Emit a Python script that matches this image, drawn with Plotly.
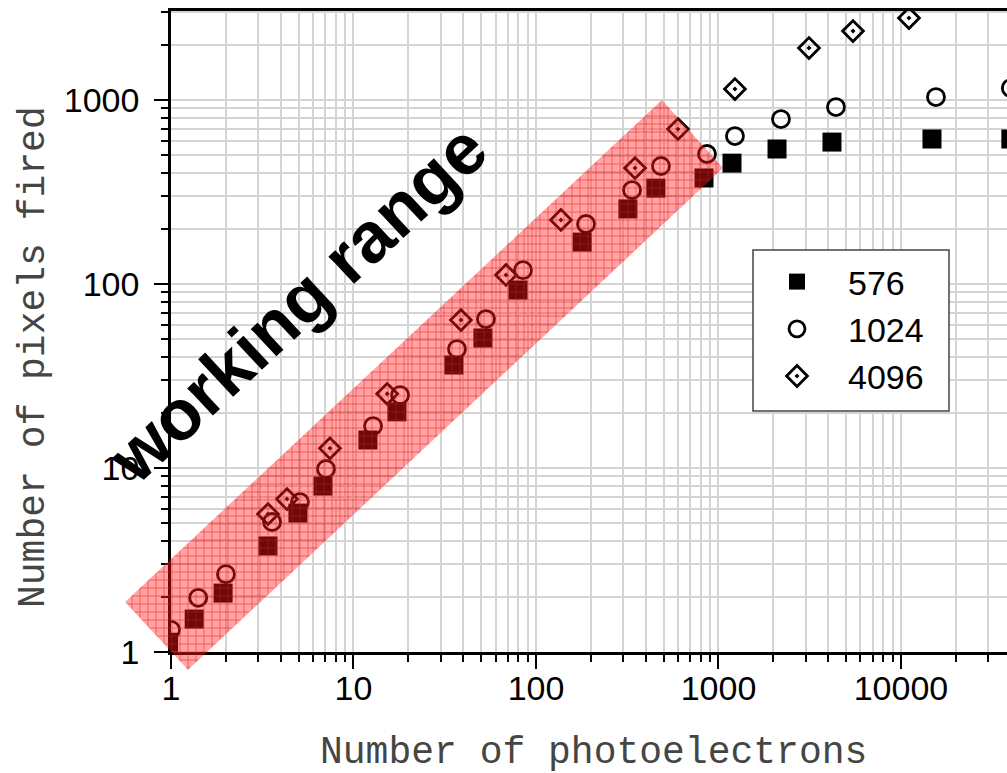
import plotly.graph_objects as go

# ---------------- data ----------------
x_576 = [0.97, 1.34, 1.93, 3.40, 4.96, 6.81, 12.0, 17.3, 35.5, 51.2, 79.7, 179, 319, 454, 833, 1186, 2093, 4188, 14790, 40000]
y_576 = [1.13, 1.51, 2.09, 3.77, 5.69, 7.98, 14.2, 20.2, 36.3, 50.9, 92.8, 169, 256, 332, 377, 454, 542, 591, 614, 614]

x_1024 = [1.0, 1.41, 2.0, 3.58, 5.09, 7.07, 12.8, 18.0, 36.9, 53.2, 84.9, 188, 336, 484, 865, 1231, 2200, 4403, 15550, 40000]
y_1024 = [1.32, 1.97, 2.65, 5.09, 6.53, 9.88, 16.9, 24.9, 44.3, 64.5, 119, 212, 324, 438, 509, 637, 788, 916, 1038, 1162]

x_4096 = [3.40, 4.32, 7.43, 15.3, 38.8, 68.5, 137, 349, 600, 1231, 3133, 5458, 11060]
y_4096 = [5.62, 6.78, 12.8, 25.3, 63.7, 112, 223, 427, 695, 1148, 1918, 2371, 2790]

series_names = ["576", "1024", "4096"]

# "working range" band corners (data units)
band_x = [0.56, 1.24, 1059, 490]
band_y = [1.87, 0.80, 427, 1000]

x_tick_vals = [1, 10, 100, 1000, 10000]
x_tick_text = ["1", "10", "100", "1000", "10000"]
y_tick_vals = [1, 10, 100, 1000]
y_tick_text = ["1", "10", "100", "1000"]

x_title = "Number of photoelectrons"
y_title = "Number of pixels fired"
band_label = "working\u00a0range"

# ---------------- layout geometry ----------------
W, H = 1007, 773
PL, PR, PT, PB = 171, 1007, 11, 652          # plot-area pixel bounds
XR = [0.0, 4.581]                            # log10 range of x axis
YR = [0.0, 3.484]                            # log10 range of y axis
sx = (PR - PL) / (XR[1] - XR[0])
sy = (PB - PT) / (YR[1] - YR[0])
XR2 = [XR[0] - PL / sx, XR[1] + (W - PR) / sx]
YR2 = [YR[0] - (H - PB) / sy, YR[1] + PT / sy]

def px(xp):
    return xp / W

def py(yp):
    return 1 - yp / H

minor_x = [m * 10 ** e for e in range(0, 5) for m in range(2, 10)]
minor_y = [m * 10 ** e for e in range(0, 4) for m in range(2, 10)]

TICKFONT = dict(family="Liberation Sans, Arial", size=34, color="black")
TITLEFONT = dict(family="Liberation Mono, Courier New, monospace", size=38, color="#454545")
GRID = "#d4d4d4"

fig = go.Figure()

fig.add_trace(go.Scatter(
    x=x_576, y=y_576, mode="markers", name=series_names[0],
    marker=dict(symbol="square", size=19, color="black", line=dict(width=0)),
))
fig.add_trace(go.Scatter(
    x=x_1024, y=y_1024, mode="markers", name=series_names[1],
    marker=dict(symbol="circle-open", size=17, color="black", line=dict(width=2.8)),
))
fig.add_trace(go.Scatter(
    x=x_4096, y=y_4096, mode="markers", name=series_names[2],
    marker=dict(symbol="diamond-open-dot", size=16, color="black", line=dict(width=2.8)),
))

# translucent hatched band on an invisible full-figure overlay axis pair
fig.add_trace(go.Scatter(
    x=band_x + band_x[:1], y=band_y + band_y[:1], xaxis="x2", yaxis="y2",
    mode="lines", fill="toself", line=dict(width=0, color="rgba(0,0,0,0)"),
    fillcolor="rgba(255,0,0,0.42)",
    fillpattern=dict(shape="+", size=8, solidity=0.16, fillmode="replace",
                     fgcolor="rgba(255,0,0,0.7)", bgcolor="rgba(255,30,30,0.40)"),
    showlegend=False, hoverinfo="skip",
))

fig.update_layout(
    template=go.layout.Template(),
    width=W, height=H, autosize=False,
    margin=dict(l=0, r=0, t=0, b=0, pad=0, autoexpand=False),
    paper_bgcolor="white", plot_bgcolor="rgba(0,0,0,0)",
    xaxis=dict(
        type="log", range=XR, domain=[px(PL), px(PR)], anchor="y", automargin=False,
        tickmode="array", tickvals=x_tick_vals, ticktext=x_tick_text,
        ticks="outside", ticklen=14, tickwidth=2, tickcolor="black",
        ticklabelstandoff=-10,
        showline=True, linecolor="black", linewidth=2.5, mirror=True,
        showgrid=True, gridcolor=GRID, gridwidth=1.5, zeroline=False,
        tickfont=TICKFONT,
        minor=dict(tickmode="array", tickvals=minor_x, ticks="outside", ticklen=7,
                   tickwidth=2, tickcolor="black", showgrid=True, gridcolor=GRID, gridwidth=1.5),
    ),
    yaxis=dict(
        type="log", range=YR, domain=[py(PB), py(PT)], anchor="x", automargin=False,
        tickmode="array", tickvals=y_tick_vals, ticktext=y_tick_text,
        ticks="outside", ticklen=14, tickwidth=2, tickcolor="black",
        ticklabelstandoff=8,
        showline=True, linecolor="black", linewidth=2.5, mirror=False,
        showgrid=True, gridcolor=GRID, gridwidth=1.5, zeroline=False,
        tickfont=TICKFONT,
        minor=dict(tickmode="array", tickvals=minor_y, ticks="outside", ticklen=7,
                   tickwidth=2, tickcolor="black", showgrid=True, gridcolor=GRID, gridwidth=1.5),
    ),
    xaxis2=dict(type="log", range=XR2, domain=[0, 1], anchor="y2", visible=False,
                fixedrange=True, automargin=False),
    yaxis2=dict(type="log", range=YR2, domain=[0, 1], anchor="x2", visible=False,
                fixedrange=True, automargin=False),
    showlegend=True,
    legend=dict(
        x=px(746), y=py(253), xanchor="left", yanchor="top",
        bgcolor="rgba(0,0,0,0)", borderwidth=0,
        font=dict(family="Liberation Sans, Arial", size=34, color="black"),
        itemwidth=92, tracegroupgap=0,
    ),
)

# legend frame
fig.add_shape(type="rect", xref="paper", yref="paper",
              x0=px(753), x1=px(949), y0=py(411), y1=py(250),
              fillcolor="white", line=dict(color="#444444", width=1.5), layer="above")

fig.add_annotation(text=band_label, xref="paper", yref="paper",
                   x=px(297), y=py(303), xanchor="center", yanchor="middle",
                   showarrow=False, textangle=-43,
                   font=dict(family="Liberation Sans, Arial", size=71, color="black", weight="bold"))

fig.add_annotation(text=x_title, xref="paper", yref="paper",
                   x=px(593), y=py(752), xanchor="center", yanchor="middle",
                   showarrow=False, font=TITLEFONT)
fig.add_annotation(text=y_title, xref="paper", yref="paper",
                   x=px(34), y=py(357), xanchor="center", yanchor="middle",
                   showarrow=False, textangle=-90, font=TITLEFONT)

fig.write_html("out.html")
